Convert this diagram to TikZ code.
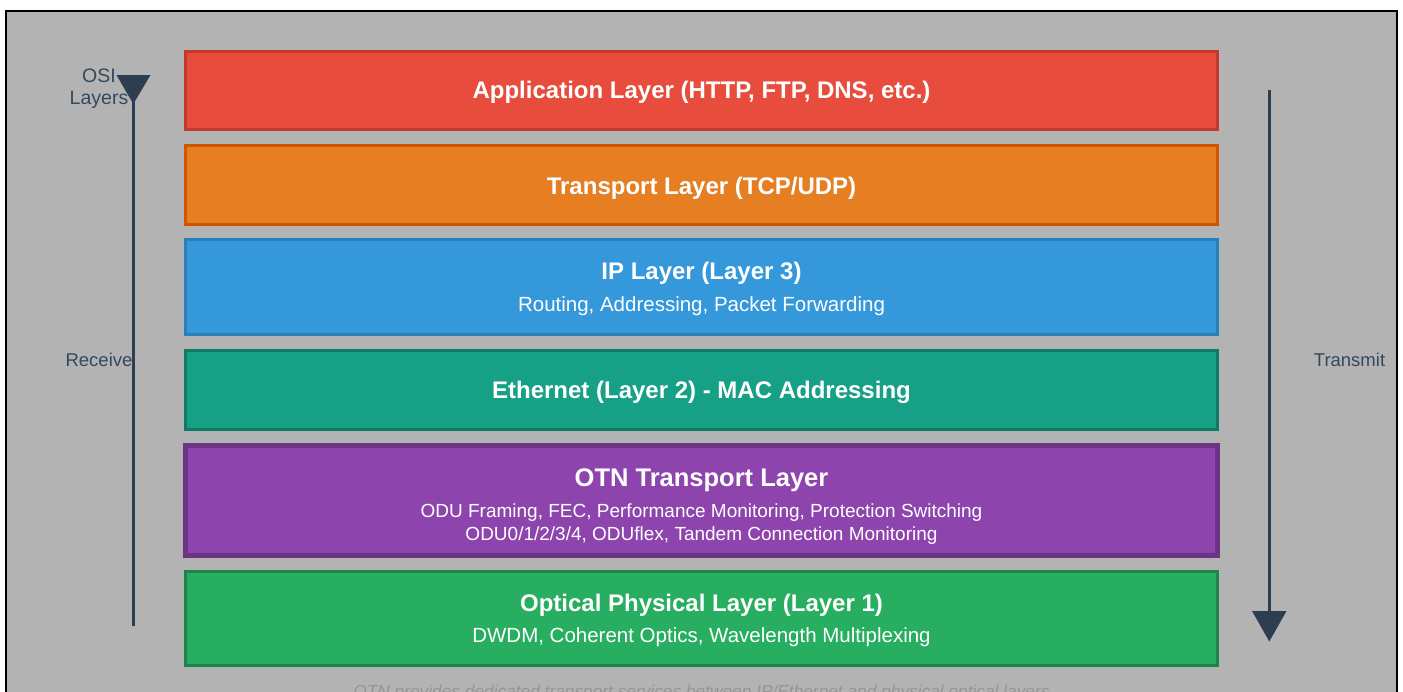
\documentclass[tikz,border=0pt]{standalone}
\usepackage{fontspec}
\setmainfont{Liberation Sans}
\definecolor{panel}{HTML}{B3B3B3}
\definecolor{ink}{HTML}{2C3E50}
\definecolor{labelc}{HTML}{34495E}
\definecolor{notec}{HTML}{959595}
\definecolor{redF}{HTML}{E74C3C}\definecolor{redS}{HTML}{C0392B}
\definecolor{oraF}{HTML}{E67E22}\definecolor{oraS}{HTML}{D35400}
\definecolor{bluF}{HTML}{3498DB}\definecolor{bluS}{HTML}{2980B9}
\definecolor{teaF}{HTML}{16A085}\definecolor{teaS}{HTML}{117A65}
\definecolor{purF}{HTML}{8E44AD}\definecolor{purS}{HTML}{6C3483}
\definecolor{grnF}{HTML}{27AE60}\definecolor{grnS}{HTML}{1E8449}
\tikzset{
  layerbox/.style={draw, line width=3pt, minimum width=1032pt, inner sep=0pt},
  ttl/.style={anchor=base, text=white, font=\fontsize{24}{27}\selectfont\bfseries, inner sep=0pt},
  sub/.style={anchor=base, text=white, font=\fontsize{20.5}{23}\selectfont, inner sep=0pt},
  smallsub/.style={anchor=base, text=white, font=\fontsize{19}{21}\selectfont, inner sep=0pt},
  sidelabel/.style={text=labelc, font=\fontsize{18.5}{22}\selectfont, inner sep=0pt, align=center},
  flow/.style={draw=ink, line width=3.2pt},
  tip/.style={fill=ink}
}
\begin{document}
\begin{tikzpicture}[x=1pt,y=-1pt]
\useasboundingbox (0,0) rectangle (1403,691);
\fill[white] (0,0) rectangle (1403,691);
\draw[line width=2pt, fill=panel] (6,10.5) rectangle (1396.5,740);

% protocol stack
\node[layerbox, fill=redF, draw=redS, minimum height=78pt] (app) at (701.5,90.5) {};
\node[layerbox, fill=oraF, draw=oraS, minimum height=79pt] (trn) at (701.5,185) {};
\node[layerbox, fill=bluF, draw=bluS, minimum height=95pt] (ip) at (701.5,287) {};
\node[layerbox, fill=teaF, draw=teaS, minimum height=79pt] (eth) at (701.5,390) {};
\node[layerbox, fill=purF, draw=purS, line width=4.4pt, minimum height=110pt] (otn) at (701.5,500.5) {};
\node[layerbox, fill=grnF, draw=grnS, minimum height=94pt] (opt) at (701.5,618.5) {};

\node[ttl] (appT) at (701.5,98.5) {Application Layer (HTTP, FTP, DNS, etc.)};
\node[ttl] (trnT) at (701.5,194.5) {Transport Layer (TCP/UDP)};
\node[ttl] (ipT) at (701.5,279.5) {IP Layer (Layer 3)};
\node[sub] (ipS) at (701.5,311.5) {Routing, Addressing, Packet Forwarding};
\node[ttl] (ethT) at (701.5,398.5) {Ethernet (Layer 2) - MAC Addressing};
\node[ttl, font=\fontsize{25.5}{28}\selectfont\bfseries] (otnT) at (701.5,486) {OTN Transport Layer};
\node[smallsub] (otnS1) at (701.5,517) {ODU Framing, FEC, Performance Monitoring, Protection Switching};
\node[smallsub] (otnS2) at (701.5,540) {ODU0/1/2/3/4, ODUflex, Tandem Connection Monitoring};
\node[ttl] (optT) at (701.5,611.5) {Optical Physical Layer (Layer 1)};
\node[sub] (optS) at (701.5,642.5) {DWDM, Coherent Optics, Wavelength Multiplexing};

% receive direction (left)
\coordinate (rxBot) at (133.3,626);
\coordinate (rxTop) at (133.3,98);
\draw[flow] (rxBot) -- (rxTop);
\fill[tip] (116.5,75) -- (150.5,75) -- (133.3,104) -- cycle;
\node[sidelabel, font=\fontsize{19.5}{23}\selectfont] (osi) at (99,88.5) {OSI\\[-1pt]Layers};
\node[sidelabel] (rx) at (99,360) {Receive};

% transmit direction (right)
\coordinate (txTop) at (1269.3,90);
\coordinate (txBot) at (1269.3,615);
\draw[flow] (txTop) -- (txBot);
\fill[tip] (1252,611) -- (1286.5,611) -- (1269.3,641.5) -- cycle;
\node[sidelabel] (tx) at (1349.5,360) {Transmit};

% caption below the stack
\node[anchor=base, text=notec, inner sep=0pt, font=\fontsize{17.3}{20}\selectfont\itshape] (note) at (701.5,697.5)
  {OTN provides dedicated transport services between IP/Ethernet and physical optical layers};
\end{tikzpicture}
\end{document}
